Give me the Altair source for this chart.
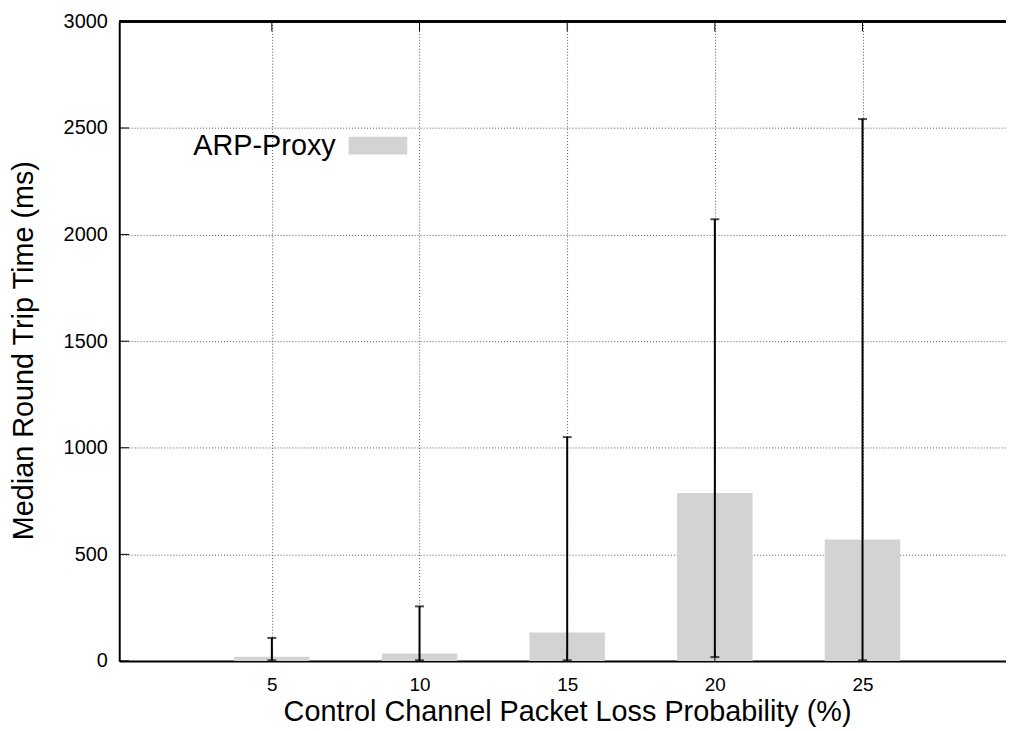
import altair as alt
import pandas as pd

# ---- data ----
loss = [5, 10, 15, 20, 25]
median_rtt = [20, 35, 133, 788, 570]
err_low = [3, 3, 3, 18, 3]
err_high = [108, 256, 1050, 2072, 2542]
series_name = "ARP-Proxy"
x_ticks = [5, 10, 15, 20, 25]
y_ticks = [0, 500, 1000, 1500, 2000, 2500, 3000]

W, H = 893, 644
FONT = "Liberation Sans"

df = pd.DataFrame({"loss": loss, "median": median_rtt, "lo": err_low, "hi": err_high})
xt = pd.DataFrame({"loss": x_ticks})
yt = pd.DataFrame({"median": y_ticks})

xscale = alt.Scale(domain=[0, 29.69], nice=False, zero=False)
yscale = alt.Scale(domain=[0, 3000], nice=False)

x_axis = alt.Axis(
    values=x_ticks, title="Control Channel Packet Loss Probability (%)", format="d",
    labelFontSize=19, labelPadding=15, labelFont=FONT, labelColor="black",
    ticks=False, tickSize=0, domainColor="black", domainWidth=2,
    grid=True, gridColor="#555", gridDash=[1, 2], gridWidth=1,
    titleFontSize=29, titleFont=FONT, titleFontWeight="normal", titleColor="black",
    titleBaseline="alphabetic", titleY=60, titleX=451, titleAlign="center",
)
y_axis = alt.Axis(
    values=y_ticks, title="Median Round Trip Time (ms)", format="d",
    labelFontSize=20, labelPadding=12, labelFont=FONT, labelColor="black",
    ticks=False, tickSize=0, domainColor="black", domainWidth=2,
    grid=True, gridColor="#555", gridDash=[1, 2], gridWidth=1,
    titleFontSize=29, titleFont=FONT, titleFontWeight="normal", titleColor="black",
    titleAngle=270, titleX=-96, titleY=331, titleAlign="center", titleBaseline="middle",
)

bars = alt.Chart(df).mark_bar(size=76, color="#d3d3d3").encode(
    x=alt.X("loss:Q", scale=xscale, axis=x_axis),
    y=alt.Y("median:Q", scale=yscale, axis=y_axis),
)

err = alt.Chart(df).mark_rule(color="black", strokeWidth=2).encode(
    x=alt.X("loss:Q", scale=xscale, axis=x_axis),
    y=alt.Y("lo:Q", scale=yscale, axis=y_axis),
    y2="hi:Q",
)
cap_hi = alt.Chart(df).mark_tick(color="black", thickness=2, size=9, orient="horizontal").encode(
    x=alt.X("loss:Q", scale=xscale, axis=x_axis),
    y=alt.Y("hi:Q", scale=yscale, axis=y_axis),
)
cap_lo = alt.Chart(df).mark_tick(color="black", thickness=2, size=9, orient="horizontal").encode(
    x=alt.X("loss:Q", scale=xscale, axis=x_axis),
    y=alt.Y("lo:Q", scale=yscale, axis=y_axis),
)

# inward tick marks (mirrored on top)
ytick_marks = alt.Chart(yt).mark_rule(color="black", strokeWidth=1).encode(
    y=alt.Y("median:Q", scale=yscale, axis=y_axis),
    x=alt.value(0), x2=alt.value(10),
)
xtick_bottom = alt.Chart(xt).mark_rule(color="black", strokeWidth=1).encode(
    x=alt.X("loss:Q", scale=xscale, axis=x_axis),
    y=alt.value(H), y2=alt.value(H - 10),
)
xtick_top = alt.Chart(xt).mark_rule(color="black", strokeWidth=1).encode(
    x=alt.X("loss:Q", scale=xscale, axis=x_axis),
    y=alt.value(0), y2=alt.value(10),
)
top_line = alt.Chart(xt).mark_rule(color="black", strokeWidth=2).encode(
    x=alt.value(0), x2=alt.value(W), y=alt.value(0),
)

# legend (label left of swatch, inside the plot)
leg = pd.DataFrame({"name": [series_name]})
leg_text = alt.Chart(leg).mark_text(
    align="right", baseline="alphabetic", fontSize=29, font=FONT, color="black"
).encode(text="name:N", x=alt.value(218), y=alt.value(134))
leg_box = alt.Chart(leg).mark_rect(color="#d3d3d3").encode(
    x=alt.value(231), x2=alt.value(290), y=alt.value(116), y2=alt.value(134)
)

chart = alt.layer(
    bars, err, cap_hi, cap_lo, ytick_marks, xtick_bottom, xtick_top, top_line, leg_text, leg_box
).properties(
    width=W, height=H,
    autosize=alt.AutoSizeParams(type="none"),
    padding={"left": 112, "top": 11, "right": 0, "bottom": 66},
).configure_view(stroke=None).configure(background="white")

chart.save("out.html", embed_options={"renderer": "svg", "actions": False})
